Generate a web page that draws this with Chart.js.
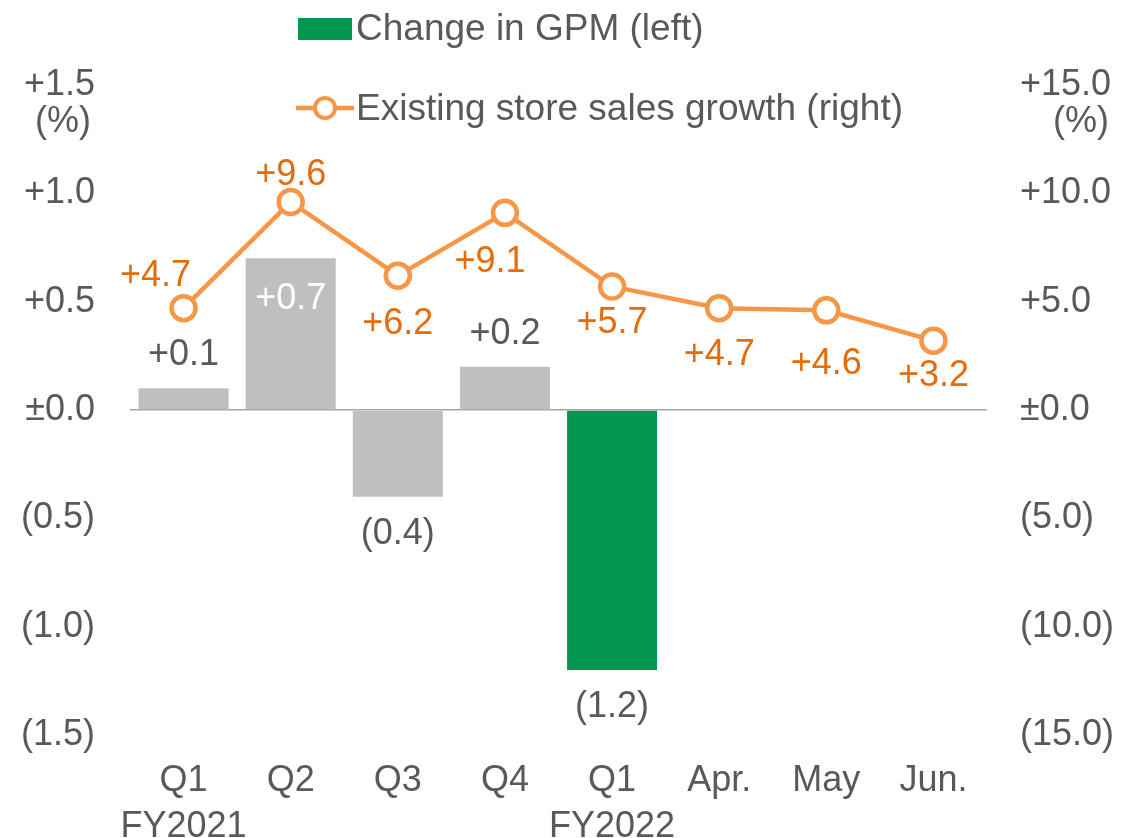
<!DOCTYPE html>
<html>
<head>
<meta charset="utf-8">
<script src="https://cdn.jsdelivr.net/npm/chart.js@4/dist/chart.umd.min.js"></script>
<style>
  html, body { margin: 0; padding: 0; background: #fff; }
  #wrap { position: relative; width: 1124px; height: 838px; }
  #c { position: absolute; left: 0; top: 0; }
  .leg { position: absolute; font-family: "Liberation Sans", Arial, sans-serif; font-size: 37px; color: #595959; white-space: nowrap; line-height: 42px; }
</style>
</head>
<body>
<div id="wrap">
  <canvas id="c" width="1124" height="838"></canvas>
  <div class="leg" style="left:298px;top:18px;width:54px;height:22px;background:#009650"></div>
  <div class="leg" style="left:356px;top:7px;">Change in GPM (left)</div>
  <svg class="leg" style="left:294px;top:94px" width="62" height="28">
    <line x1="2" y1="14" x2="60" y2="14" stroke="#F79646" stroke-width="4.5"/>
    <circle cx="31" cy="14" r="10" fill="#fff" stroke="#F79646" stroke-width="4"/>
  </svg>
  <div class="leg" style="left:356px;top:87px;">Existing store sales growth (right)</div>
</div>
<script>
const categories = [["Q1", "FY2021"], "Q2", "Q3", "Q4", ["Q1", "FY2022"], "Apr.", "May", "Jun."];
const gpmChange = [0.1, 0.7, -0.4, 0.2, -1.2, null, null, null];
const salesGrowth = [4.7, 9.6, 6.2, 9.1, 5.7, 4.7, 4.6, 3.2];
const leftTicks = { min: -1.5, max: 1.5, step: 0.5 };
const rightTicks = { min: -15, max: 15, step: 5 };

const GREY = '#BFBFBF', GREEN = '#009650', ORANGE = '#F79646', ORANGE_TXT = '#E46C0A', TXT = '#595959';
const FONT = '"Liberation Sans", Arial, sans-serif';
const FS = 36;

function fmt(v, d) {
  if (v > 0) return '+' + v.toFixed(d);
  if (v < 0) return '(' + (-v).toFixed(d) + ')';
  return '\u00B10.' + '0'.repeat(d);
}
function fmtTick(v, d) {
  const r = Math.round(v * 1000) / 1000;
  return fmt(r, d);
}

// label placement styles (not data)
const barLabelPlace = ['above', 'inside', 'below', 'above', 'below'];
const lineLabelOffset = [[-28, -32], [0, -27], [0, 48], [-15, 49], [0, 37], [0, 47], [0, 54], [0, 35]];

const labelsPlugin = {
  id: 'labels',
  afterDatasetsDraw(chart) {
    const ctx = chart.ctx;
    ctx.save();
    ctx.font = FS + 'px ' + FONT;
    ctx.textAlign = 'center';
    ctx.textBaseline = 'middle';
    const barMeta = chart.getDatasetMeta(0);
    barMeta.data.forEach((el, i) => {
      const v = gpmChange[i];
      if (v === null || v === undefined) return;
      const place = barLabelPlace[i];
      const top = Math.min(el.y, el.base), bottom = Math.max(el.y, el.base);
      let y, color = TXT;
      if (place === 'above') y = top - 33;
      else if (place === 'below') y = bottom + 37;
      else { y = top + 41; color = '#FFFFFF'; }
      ctx.fillStyle = color;
      ctx.fillText(fmt(v, 1), el.x, y);
    });
    const lineMeta = chart.getDatasetMeta(1);
    ctx.fillStyle = ORANGE_TXT;
    lineMeta.data.forEach((el, i) => {
      const o = lineLabelOffset[i];
      ctx.fillText(fmt(salesGrowth[i], 1), el.x + o[0], el.y + o[1]);
    });
    // unit labels under top ticks
    const yl = chart.scales.y, yr = chart.scales.y1;
    ctx.fillStyle = TXT;
    ctx.fillText('(%)', 63, yl.getPixelForValue(leftTicks.max) + 37);
    ctx.fillText('(%)', 1081, yr.getPixelForValue(rightTicks.max) + 37);
    ctx.restore();
  }
};

new Chart(document.getElementById('c'), {
  data: {
    labels: categories,
    datasets: [
      {
        type: 'bar',
        label: 'Change in GPM (left)',
        data: gpmChange,
        backgroundColor: gpmChange.map((v, i) => i === 4 ? GREEN : GREY),
        yAxisID: 'y',
        barPercentage: 0.84,
        categoryPercentage: 1.0,
        order: 2
      },
      {
        type: 'line',
        label: 'Existing store sales growth (right)',
        data: salesGrowth,
        borderColor: ORANGE,
        borderWidth: 4.5,
        pointRadius: 12,
        pointBorderWidth: 4.5,
        pointBackgroundColor: '#FFFFFF',
        pointBorderColor: ORANGE,
        tension: 0,
        yAxisID: 'y1',
        order: 1
      }
    ]
  },
  options: {
    responsive: false,
    animation: false,
    layout: { padding: { top: 85, left: 0, right: 0, bottom: 0 } },
    plugins: { legend: { display: false }, tooltip: { enabled: false } },
    scales: {
      x: {
        grid: { display: false },
        border: { display: false },
        ticks: { color: TXT, font: { family: FONT, size: FS, lineHeight: 1.28 }, padding: 15, maxRotation: 0, autoSkip: false },
        afterFit(s) { s.height = 103; }
      },
      y: {
        position: 'left',
        min: leftTicks.min, max: leftTicks.max,
        ticks: { stepSize: leftTicks.step, color: TXT, font: { family: FONT, size: FS }, padding: 35, callback: v => fmtTick(v, 1) },
        grid: { drawTicks: false, color: c => (c.tick && Math.abs(c.tick.value) < 1e-9) ? '#A6A6A6' : 'rgba(0,0,0,0)', lineWidth: 1.5 },
        border: { display: false },
        afterFit(s) { s.width = 130; }
      },
      y1: {
        position: 'right',
        min: rightTicks.min, max: rightTicks.max,
        ticks: { stepSize: rightTicks.step, color: TXT, font: { family: FONT, size: FS }, padding: 33, callback: v => fmtTick(v, 1) },
        grid: { display: false, drawTicks: false },
        border: { display: false },
        afterFit(s) { s.width = 137; }
      }
    }
  },
  plugins: [labelsPlugin]
});
</script>
</body>
</html>
